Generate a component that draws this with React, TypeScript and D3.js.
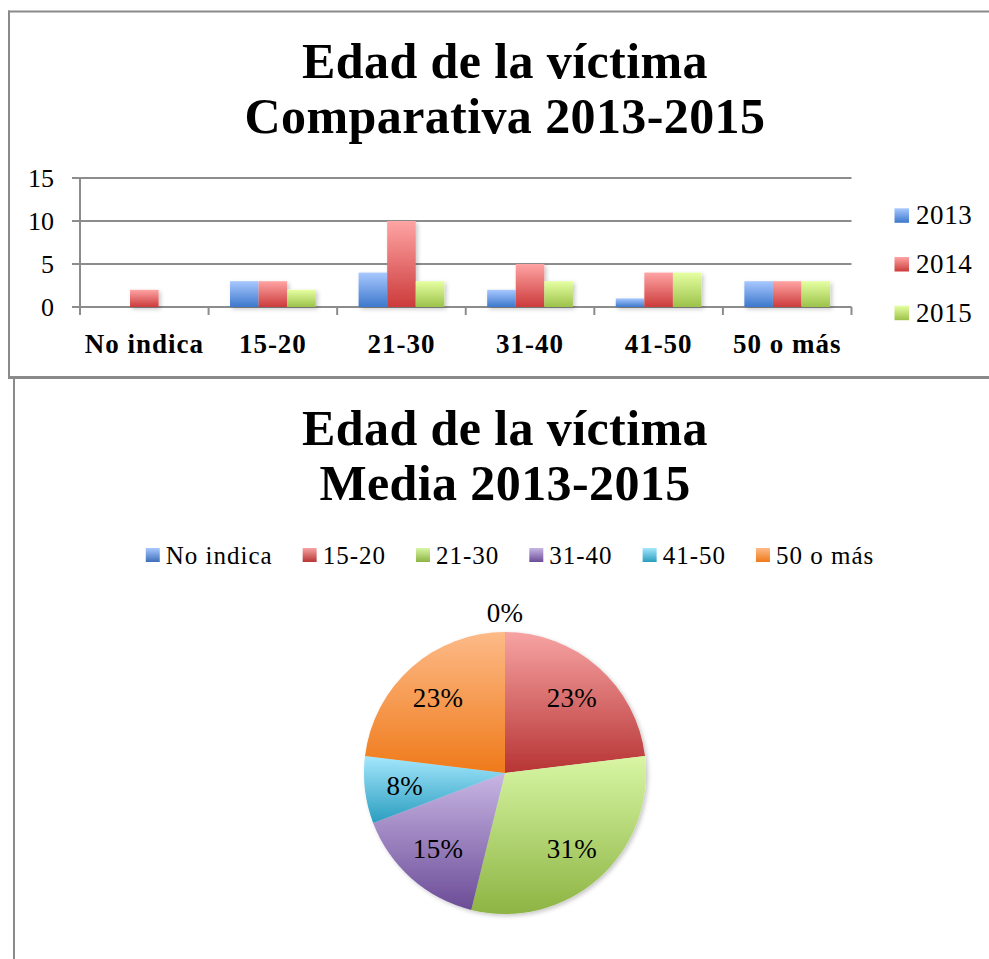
import React, { useEffect, useRef } from "react";
import * as d3 from "d3";

const categories = ["No indica", "15-20", "21-30", "31-40", "41-50", "50 o más"];
const years = ["2013", "2014", "2015"];
const values2013 = [0, 3, 4, 2, 1, 3];
const values2014 = [2, 3, 10, 5, 4, 3];
const values2015 = [0, 2, 3, 3, 4, 3];
const yTicks = [0, 5, 10, 15];
const pieCategories = ["No indica", "15-20", "21-30", "31-40", "41-50", "50 o más"];
const pieValues = [0, 3, 4, 2, 1, 3];
const barTitle = ["Edad de la víctima", "Comparativa 2013-2015"];
const pieTitle = ["Edad de la víctima", "Media 2013-2015"];

const yearColors = [
  ["#a8c8ff", "#3d78cc"],
  ["#ffa4a4", "#cc3b3b"],
  ["#e6ffa2", "#9cc24a"],
];
const pieColors = [
  ["#a8c8ff", "#3d6fb8"],
  ["#f7a3a3", "#b73434"],
  ["#d8f6a4", "#8db443"],
  ["#c8b6e4", "#6b4c97"],
  ["#a4e7fd", "#2a9dbf"],
  ["#fdba88", "#ef7a1a"],
];

const FONT = "'Liberation Serif', 'Times New Roman', serif";

export default function App() {
  const ref = useRef<SVGSVGElement | null>(null);

  useEffect(() => {
    const svg = d3.select(ref.current);
    svg.selectAll("*").remove();
    const defs = svg.append("defs");

    const mkGrad = (id: string, c: string[]) => {
      const g = defs.append("linearGradient").attr("id", id)
        .attr("x1", 0).attr("y1", 0).attr("x2", 0).attr("y2", 1);
      g.append("stop").attr("offset", "0%").attr("stop-color", c[0]);
      g.append("stop").attr("offset", "100%").attr("stop-color", c[1]);
    };
    yearColors.forEach((c, i) => mkGrad("yg" + i, c));
    pieColors.forEach((c, i) => mkGrad("pg" + i, c));

    const f = defs.append("filter").attr("id", "shadow")
      .attr("x", "-20%").attr("y", "-20%").attr("width", "150%").attr("height", "150%");
    f.append("feDropShadow").attr("dx", 2).attr("dy", 2).attr("stdDeviation", 2)
      .attr("flood-color", "#000").attr("flood-opacity", 0.22);

    // Frames
    const frameColor = "#8a8a8a";
    svg.append("line").attr("x1", 8).attr("x2", 1000).attr("y1", 11.5).attr("y2", 11.5)
      .attr("stroke", frameColor).attr("stroke-width", 2);
    svg.append("line").attr("x1", 9).attr("x2", 9).attr("y1", 10.5).attr("y2", 378)
      .attr("stroke", frameColor).attr("stroke-width", 2);
    svg.append("line").attr("x1", 8).attr("x2", 1000).attr("y1", 377.5).attr("y2", 377.5)
      .attr("stroke", frameColor).attr("stroke-width", 3);
    svg.append("line").attr("x1", 14).attr("x2", 14).attr("y1", 377).attr("y2", 970)
      .attr("stroke", frameColor).attr("stroke-width", 2);

    // ---------- Bar chart ----------
    const titleG = svg.append("g");
    [78, 133].forEach((yy, i) => {
      titleG.append("text").attr("x", 505).attr("y", yy).attr("text-anchor", "middle")
        .attr("font-family", FONT).attr("font-weight", "bold").attr("font-size", 50)
        .attr("letter-spacing", 0.4).text(barTitle[i]);
    });

    const left = 80, right = 851.5;
    const x = d3.scaleBand<string>().domain(categories).range([left, right]).paddingInner(0).paddingOuter(0);
    const xi = d3.scaleBand<string>().domain(years).range([0, x.bandwidth()]).paddingInner(0).paddingOuter(0.75);
    const y = d3.scaleLinear().domain([0, 15]).range([307, 178]);
    const axisColor = "#8c8c8c";

    yTicks.forEach((t) => {
      svg.append("line").attr("x1", left - 8).attr("x2", right).attr("y1", y(t)).attr("y2", y(t))
        .attr("stroke", axisColor).attr("stroke-width", 2);
      svg.append("text").attr("x", 54).attr("y", y(t)).attr("dy", "0.35em").attr("text-anchor", "end")
        .attr("font-family", FONT).attr("font-size", 26).text(String(t));
    });
    svg.append("line").attr("x1", left).attr("x2", left).attr("y1", y(15)).attr("y2", y(0) + 8)
      .attr("stroke", axisColor).attr("stroke-width", 2);
    categories.forEach((c) => {
      const xx = (x(c) as number) + x.bandwidth();
      svg.append("line").attr("x1", xx).attr("x2", xx).attr("y1", y(0)).attr("y2", y(0) + 8)
        .attr("stroke", axisColor).attr("stroke-width", 2);
    });

    const series = [values2013, values2014, values2015];
    const barsG = svg.append("g").attr("filter", "url(#shadow)");
    categories.forEach((c, ci) => {
      years.forEach((yr, si) => {
        const v = series[si][ci];
        if (v <= 0) return;
        barsG.append("rect")
          .attr("x", (x(c) as number) + (xi(yr) as number))
          .attr("y", y(v))
          .attr("width", xi.bandwidth())
          .attr("height", y(0) - y(v))
          .attr("fill", `url(#yg${si})`);
      });
    });

    categories.forEach((c) => {
      svg.append("text").attr("x", (x(c) as number) + x.bandwidth() / 2).attr("y", 353)
        .attr("text-anchor", "middle").attr("font-family", FONT).attr("font-weight", "bold")
        .attr("font-size", 27).attr("letter-spacing", 1).text(c);
    });

    years.forEach((yr, i) => {
      const base = 224.3 + i * 48.7;
      svg.append("rect").attr("x", 894.5).attr("y", base - 16).attr("width", 14.5).attr("height", 14.5)
        .attr("fill", `url(#yg${i})`);
      svg.append("text").attr("x", 916).attr("y", base).attr("font-family", FONT)
        .attr("font-size", 27).attr("letter-spacing", 0.6).text(yr);
    });

    // ---------- Pie chart ----------
    [445, 500].forEach((yy, i) => {
      svg.append("text").attr("x", 505).attr("y", yy).attr("text-anchor", "middle")
        .attr("font-family", FONT).attr("font-weight", "bold").attr("font-size", 50)
        .attr("letter-spacing", 0.4).text(pieTitle[i]);
    });

    const legG = svg.append("g");
    let cx = 0;
    const items: { sx: number; tx: number }[] = [];
    const legSize = 25, legLs = 1;
    pieCategories.forEach((c, i) => {
      const t = legG.append("text").attr("font-family", FONT).attr("font-size", legSize)
        .attr("letter-spacing", legLs).text(c);
      const w = (t.node() as SVGTextElement).getComputedTextLength();
      items.push({ sx: cx, tx: cx + 20 });
      cx += 20 + w + (i < pieCategories.length - 1 ? 30 : 0);
      t.remove();
    });
    const legStart = 510 - cx / 2;
    pieCategories.forEach((c, i) => {
      legG.append("rect").attr("x", legStart + items[i].sx).attr("y", 548).attr("width", 14).attr("height", 14)
        .attr("fill", `url(#pg${i})`);
      legG.append("text").attr("x", legStart + items[i].tx).attr("y", 563.5)
        .attr("font-family", FONT).attr("font-size", legSize).attr("letter-spacing", legLs).text(c);
    });

    const pcx = 505, pcy = 773, r = 141;
    const pie = d3.pie<number>().sort(null).value((d) => d);
    const arcs = pie(pieValues);
    const total = d3.sum(pieValues);
    const arc = d3.arc<d3.PieArcDatum<number>>().innerRadius(0).outerRadius(r);
    const labelArc = d3.arc<d3.PieArcDatum<number>>().innerRadius(101).outerRadius(101);
    const outArc = d3.arc<d3.PieArcDatum<number>>().innerRadius(r + 19).outerRadius(r + 19);
    const pg = svg.append("g").attr("transform", `translate(${pcx},${pcy})`);
    pg.append("g").attr("filter", "url(#shadow)").selectAll("path").data(arcs).join("path")
      .attr("d", (d) => arc(d) as string)
      .attr("fill", (d, i) => `url(#pg${i})`);
    arcs.forEach((d) => {
      const pos = d.value === 0 ? outArc.centroid(d) : labelArc.centroid(d);
      pg.append("text").attr("x", pos[0]).attr("y", pos[1]).attr("dy", "0.35em")
        .attr("text-anchor", "middle").attr("font-family", FONT).attr("font-size", 27)
        .attr("letter-spacing", 0.3)
        .text(`${Math.round((d.value / total) * 100)}%`);
    });
  }, []);

  return (
    <div style={{ position: "absolute", left: 0, top: 0, width: 989, height: 959, overflow: "hidden", background: "#fff" }}>
      <svg ref={ref} width={989} height={959} />
    </div>
  );
}
